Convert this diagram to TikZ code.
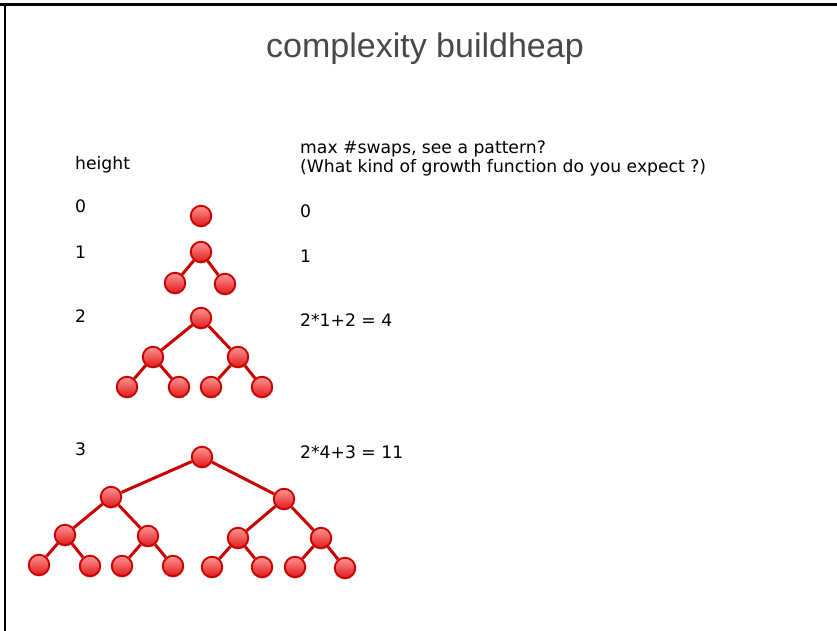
\documentclass[tikz,border=0pt]{standalone}
\usepackage{fontspec}
\setmainfont{Liberation Sans}
\newfontfamily\labelfont{DejaVu Sans}
\usetikzlibrary{shadows}

\definecolor{heapred}{RGB}{200,0,0}
\definecolor{heaplight}{RGB}{255,150,150}
\definecolor{heapmid}{RGB}{242,60,60}
\definecolor{heapdark}{RGB}{225,25,25}
\definecolor{titlegray}{RGB}{72,72,72}

\begin{document}
\begin{tikzpicture}[x=1pt, y=-1pt,
    heapnode/.style = {circle, minimum size=20.5pt, inner sep=0pt, line width=1.9pt,
        draw=heapred, top color=heaplight, middle color=heapmid, bottom color=heapdark,
        drop shadow={opacity=0.25, shadow xshift=0pt, shadow yshift=-1.5pt}},
    heapedge/.style = {draw=heapred, line width=3pt},
    label/.style = {anchor=base west, inner sep=0pt, font=\labelfont\fontsize{17.2}{20}\selectfont}]

\useasboundingbox (0,0) rectangle (837,631);

%frame
        \draw[line width=2.6pt] (0,4.5) -- (837,4.5);
        \draw[line width=2.6pt] (5,3.2) -- (5,631);

%title
        \node (title) at (425,58) [anchor=base, inner sep=0pt, text=titlegray, font=\fontsize{34}{40}\selectfont] {complexity buildheap};

%left column
        \node (hd) at (75,170) [label] {height};
        \node (h0) at (75,212) [label] {0};
        \node (h1) at (75,258) [label] {1};
        \node (h2) at (75,322) [label] {2};
        \node (h3) at (75,455) [label] {3};

%right column
        \node (sw) at (300,154) [label] {max \#swaps, see a pattern?};
        \node (sq) at (300,173) [label] {(What kind of growth function do you expect ?)};
        \node (s0) at (300,217) [label] {0};
        \node (s1) at (300,262) [label] {1};
        \node (s2) at (300,326) [label] {2*1+2 = 4};
        \node (s3) at (300,458) [label] {2*4+3 = 11};

%height 0
        \node (A) at (201,216) [heapnode] {};

%height 1
        \node (B) at (201,252) [heapnode] {};
        \node (B1) at (175,283) [heapnode] {};
        \node (B2) at (225,284) [heapnode] {};
        \draw[heapedge] (B1) -- (B) -- (B2);

%height 2
        \node (C) at (201,318) [heapnode] {};
        \node (C1) at (153,357) [heapnode] {};
        \node (C2) at (238,357) [heapnode] {};
        \node (C11) at (127,387) [heapnode] {};
        \node (C12) at (179,387) [heapnode] {};
        \node (C21) at (211,387) [heapnode] {};
        \node (C22) at (262,387) [heapnode] {};
        \draw[heapedge] (C1) -- (C) -- (C2);
        \draw[heapedge] (C11) -- (C1) -- (C12);
        \draw[heapedge] (C21) -- (C2) -- (C22);

%height 3
        \node (D) at (202,457) [heapnode] {};
        \node (D1) at (111,497) [heapnode] {};
        \node (D2) at (284,499) [heapnode] {};
        \node (D11) at (65,535) [heapnode] {};
        \node (D12) at (148,536) [heapnode] {};
        \node (D21) at (238,538) [heapnode] {};
        \node (D22) at (321,538) [heapnode] {};
        \node (D111) at (39,565) [heapnode] {};
        \node (D112) at (90,566) [heapnode] {};
        \node (D121) at (122,566) [heapnode] {};
        \node (D122) at (173,566) [heapnode] {};
        \node (D211) at (212,567) [heapnode] {};
        \node (D212) at (262,567) [heapnode] {};
        \node (D221) at (295,567) [heapnode] {};
        \node (D222) at (345,568) [heapnode] {};
        \draw[heapedge] (D1) -- (D) -- (D2);
        \draw[heapedge] (D11) -- (D1) -- (D12);
        \draw[heapedge] (D21) -- (D2) -- (D22);
        \draw[heapedge] (D111) -- (D11) -- (D112);
        \draw[heapedge] (D121) -- (D12) -- (D122);
        \draw[heapedge] (D211) -- (D21) -- (D212);
        \draw[heapedge] (D221) -- (D22) -- (D222);
\end{tikzpicture}
\end{document}
